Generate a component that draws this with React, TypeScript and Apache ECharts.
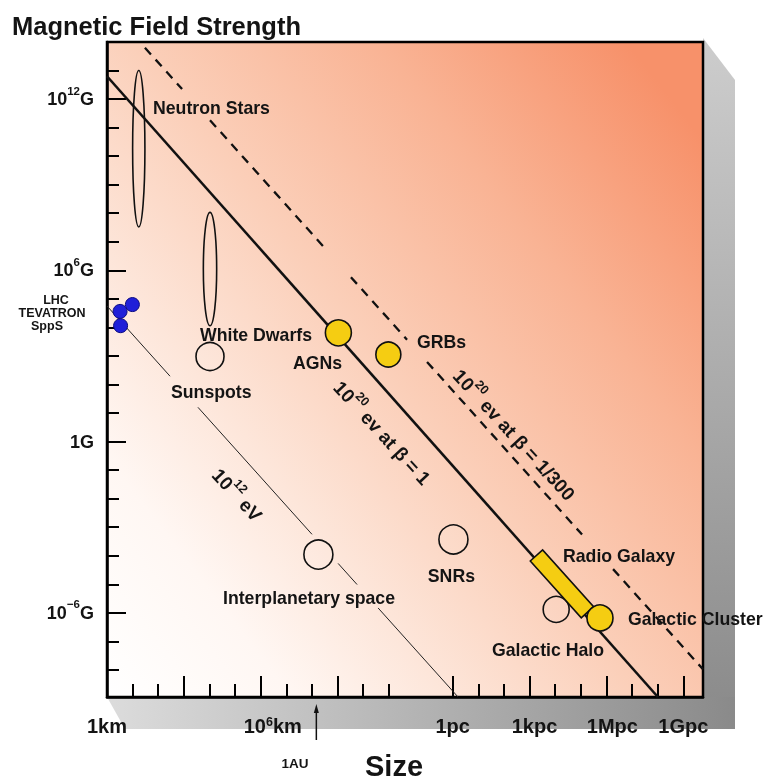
import React, { useEffect, useRef } from 'react';
import * as echarts from 'echarts';

const FONT = "'Liberation Sans', Arial, Helvetica, sans-serif";
const INK = '#141414';
const YELLOW = '#f5cd12';

// Axis extents: log10(size / km) and log10(B / Gauss)
const X_RANGE = [0, 23.26];
const Y_RANGE = [-8.95, 14];

// Tick positions (log10 km): decades up to 10^11 km, then decades from 1 pc
const xMinorTicks = [1, 2, 4, 5, 7, 8, 10, 11, 14.49, 15.49, 17.49, 18.49, 20.49, 21.49];
const xMajorTicks = [3, 6, 9, 13.49, 16.49, 19.49, 22.49];
const xLabelVals = [0, 6, 13.49, 16.49, 19.49, 22.49];
const xLabelRich = ['{n|1km}', '{pa|10}{s|6}{n|km}', '{n|1pc}', '{pb|1kpc}', '{pc|1Mpc}', '{n|1Gpc}'];

// Tick positions (log10 Gauss)
const yMinorTicks = [-8, -7, -5, -4, -3, -2, -1, 1, 2, 3, 4, 5, 7, 8, 9, 10, 11, 13];
const yMajorTicks = [-6, 0, 6, 12];
const yLabelVals = [12, 6, 0, -6];
const yLabelRich = ['{n|10}{s|12}{n|G}', '{n|10}{s|6}{n|G}', '{n|1G}', '{n|10}{s|\u22126}{n|G}'];

// Maximum-energy lines, drawn segments [[x, y], [x, y]]
const betaOneLine = [[[0, 12.8], [21.5, -8.95]]];
const betaSlowLine = [
  [[1.48, 13.8], [2.93, 12.35]],
  [[4.02, 11.26], [8.43, 6.85]],
  [[9.52, 5.76], [11.71, 3.57]],
  [[12.49, 2.79], [18.54, -3.26]],
  [[19.75, -4.47], [23.26, -7.98]],
];
const teVLine = [
  [[0, 4.75], [2.46, 2.29]],
  [[3.55, 1.2], [8.0, -3.25]],
  [[9.02, -4.27], [9.76, -5.01]],
  [[10.58, -5.83], [13.7, -8.95]],
];

// Sources: [log10 size, log10 B, symbol size]
const openSources = [
  [4.02, 2.98, 28], // Sunspots
  [8.25, -3.96, 29], // Interplanetary space
  [13.52, -3.43, 29], // SNRs
  [17.53, -5.88, 26], // Galactic Halo
];
const yellowSources = [
  [9.03, 3.81, 26], // AGNs
  [10.98, 3.05, 25], // GRBs
  [19.24, -6.18, 26], // Galactic Cluster
];
const colliders = [
  [0.99, 4.8],
  [0.51, 4.56],
  [0.53, 4.06],
];
// Ellipses: [xMin, xMax, yMin, yMax]
const ellipses = [
  [1.0, 1.48, 7.52, 13.0], // Neutron stars
  [3.76, 4.28, 4.06, 8.03], // White dwarfs
];
// Radio galaxy bar: [x1, y1, x2, y2]
const radioGalaxy = [[16.76, -3.99, 18.75, -5.98]];
// 1 AU in log10 km
const auMarker = [[8.17]];

const rs = (size: number, lh: number, extra: any = {}) => ({
  fontSize: size,
  lineHeight: lh,
  fontWeight: 'bold',
  fontFamily: FONT,
  color: INK,
  ...extra,
});

const txt = (text: string, x: number, y: number, align = 'left', size = 17.7, extra: any = {}) => ({
  type: 'text',
  x,
  y,
  z: 5,
  silent: true,
  ...extra,
  style: {
    text,
    fill: INK,
    fontSize: size,
    fontWeight: 'bold',
    fontFamily: FONT,
    align,
    verticalAlign: 'middle',
    textAlign: align,
    textVerticalAlign: 'middle',
    ...(extra.style || {}),
  },
});

const ANG = -47.5 * Math.PI / 180;
const rotRich = {
  n: rs(19, 30),
  s: rs(12.5, 12, { verticalAlign: 'top' }),
};

function buildOption() {
  const baseAxisX = {
    type: 'value',
    min: X_RANGE[0],
    max: X_RANGE[1],
    position: 'bottom',
    splitLine: { show: false },
  };
  const baseAxisY = {
    type: 'value',
    min: Y_RANGE[0],
    max: Y_RANGE[1],
    position: 'left',
    splitLine: { show: false },
  };
  const tickStyle = { color: '#000', width: 2 };
  return {
    animation: false,
    textStyle: { fontFamily: FONT },
    grid: {
      left: 107,
      right: 60,
      top: 42,
      bottom: 85,
      show: true,
      borderColor: '#000',
      borderWidth: 2.5,
      backgroundColor: new echarts.graphic.LinearGradient(0, 1, 1, 0.15, [
        { offset: 0, color: '#ffffff' },
        { offset: 0.18, color: '#fff7f3' },
        { offset: 0.33, color: '#fde6da' },
        { offset: 0.52, color: '#fbcfb9' },
        { offset: 0.76, color: '#f9b394' },
        { offset: 1, color: '#f7916a' },
      ]),
      containLabel: false,
      outerBoundsMode: 'none',
    },
    xAxis: [
      {
        ...baseAxisX,
        axisLine: { show: true, onZero: false, lineStyle: { color: '#000', width: 2.5 } },
        axisTick: { show: true, inside: true, length: 13, customValues: xMinorTicks, lineStyle: tickStyle },
        axisLabel: {
          show: true,
          margin: 18,
          customValues: xLabelVals,
          formatter: (v: number) => {
            const i = xLabelVals.findIndex((t) => Math.abs(t - v) < 1e-6);
            return i >= 0 ? xLabelRich[i] : '';
          },
          rich: {
            n: rs(20, 21),
            s: rs(12.5, 10, { verticalAlign: 'top' }),
            pa: rs(20, 21, { padding: [0, 0, 0, 24] }),
            pb: rs(20, 21, { padding: [0, 0, 0, 10] }),
            pc: rs(20, 21, { padding: [0, 0, 0, 12] }),
          },
        },
      },
      {
        ...baseAxisX,
        axisLine: { show: false, onZero: false },
        axisTick: { show: true, inside: true, length: 21, customValues: xMajorTicks, lineStyle: tickStyle },
        axisLabel: { show: false },
      },
    ],
    yAxis: [
      {
        ...baseAxisY,
        axisLine: { show: true, onZero: false, lineStyle: { color: '#000', width: 2.5 } },
        axisTick: { show: true, inside: true, length: 12, customValues: yMinorTicks, lineStyle: tickStyle },
        axisLabel: {
          show: true,
          margin: 13,
          customValues: yLabelVals,
          formatter: (v: number) => {
            const i = yLabelVals.findIndex((t) => Math.abs(t - v) < 1e-6);
            return i >= 0 ? yLabelRich[i] : '';
          },
          rich: {
            n: rs(18, 29),
            s: rs(11.5, 11, { verticalAlign: 'top' }),
          },
        },
      },
      {
        ...baseAxisY,
        axisLine: { show: false, onZero: false },
        axisTick: { show: true, inside: true, length: 19, customValues: yMajorTicks, lineStyle: tickStyle },
        axisLabel: { show: false },
      },
    ],
    series: [
      {
        type: 'lines',
        coordinateSystem: 'cartesian2d',
        silent: true,
        z: 2,
        data: teVLine.map((c) => ({ coords: c })),
        lineStyle: { color: '#222', width: 1, type: 'solid', opacity: 1, curveness: 0 },
      },
      {
        type: 'lines',
        coordinateSystem: 'cartesian2d',
        silent: true,
        z: 2,
        data: betaSlowLine.map((c) => ({ coords: c })),
        lineStyle: { color: '#111', width: 2.3, type: [9, 7], opacity: 1, curveness: 0 },
      },
      {
        type: 'lines',
        coordinateSystem: 'cartesian2d',
        silent: true,
        z: 2,
        data: betaOneLine.map((c) => ({ coords: c })),
        lineStyle: { color: '#111', width: 2.6, type: 'solid', opacity: 1, curveness: 0 },
      },
      {
        type: 'custom',
        coordinateSystem: 'cartesian2d',
        silent: true,
        clip: false,
        z: 3,
        data: ellipses,
        renderItem: (params: any, api: any) => {
          const a = api.coord([api.value(0), api.value(2)]);
          const b = api.coord([api.value(1), api.value(3)]);
          return {
            type: 'ellipse',
            shape: {
              cx: (a[0] + b[0]) / 2,
              cy: (a[1] + b[1]) / 2,
              rx: Math.abs(b[0] - a[0]) / 2,
              ry: Math.abs(b[1] - a[1]) / 2,
            },
            style: { fill: 'none', stroke: '#111', lineWidth: 1.6 },
          };
        },
      },
      {
        type: 'scatter',
        silent: true,
        z: 3,
        data: openSources,
        symbol: 'circle',
        symbolSize: (v: number[]) => v[2],
        itemStyle: { color: 'rgba(255,255,255,0.08)', borderColor: '#111', borderWidth: 1.6, opacity: 1 },
      },
      {
        type: 'custom',
        coordinateSystem: 'cartesian2d',
        silent: true,
        clip: false,
        z: 4,
        data: radioGalaxy,
        renderItem: (params: any, api: any) => {
          const a = api.coord([api.value(0), api.value(1)]);
          const b = api.coord([api.value(2), api.value(3)]);
          const dx = b[0] - a[0];
          const dy = b[1] - a[1];
          const L = Math.hypot(dx, dy) || 1;
          const h = 8.3;
          const nx = (-dy / L) * h;
          const ny = (dx / L) * h;
          return {
            type: 'polygon',
            shape: {
              points: [
                [a[0] + nx, a[1] + ny],
                [b[0] + nx, b[1] + ny],
                [b[0] - nx, b[1] - ny],
                [a[0] - nx, a[1] - ny],
              ],
            },
            style: { fill: YELLOW, stroke: '#111', lineWidth: 1.6 },
          };
        },
      },
      {
        type: 'scatter',
        silent: true,
        z: 4,
        data: yellowSources,
        symbol: 'circle',
        symbolSize: (v: number[]) => v[2],
        itemStyle: { color: YELLOW, borderColor: '#111', borderWidth: 1.6, opacity: 1 },
      },
      {
        type: 'scatter',
        silent: true,
        z: 4,
        data: colliders,
        symbol: 'circle',
        symbolSize: 14,
        itemStyle: { color: '#1f1fd8', borderColor: '#0b0b80', borderWidth: 1, opacity: 1 },
      },
      {
        type: 'custom',
        coordinateSystem: 'cartesian2d',
        silent: true,
        clip: false,
        z: 4,
        data: auMarker,
        renderItem: (params: any, api: any) => {
          const p = api.coord([api.value(0), Y_RANGE[0]]);
          const x = p[0];
          const y = p[1];
          return {
            type: 'group',
            children: [
              { type: 'line', shape: { x1: x, y1: y + 12, x2: x, y2: y + 43 }, style: { stroke: '#111', lineWidth: 1.5 } },
              { type: 'polygon', shape: { points: [[x, y + 7], [x - 2.5, y + 16], [x + 2.5, y + 16]] }, style: { fill: '#111' } },
            ],
          };
        },
      },
    ],
    graphic: [
      // drop shadow of the panel
      {
        type: 'polygon',
        z: -10,
        silent: true,
        shape: { points: [[703, 38], [735, 80], [735, 700], [703, 700]] },
        style: {
          fill: new echarts.graphic.LinearGradient(0, 0, 0, 1, [
            { offset: 0, color: '#cdcdcd' },
            { offset: 1, color: '#8c8c8c' },
          ]),
        },
      },
      {
        type: 'polygon',
        z: -10,
        silent: true,
        shape: { points: [[107, 697], [735, 697], [735, 729], [125, 729]] },
        style: {
          fill: new echarts.graphic.LinearGradient(0, 0, 1, 0, [
            { offset: 0, color: '#dcdcdc' },
            { offset: 1, color: '#8a8a8a' },
          ]),
        },
      },
      txt('Magnetic Field Strength', 12, 26, 'left', 25.5),
      txt('Size', 394, 766, 'center', 29),
      txt('1AU', 295, 763, 'center', 13.5),
      txt('LHC', 56, 300, 'center', 12.5),
      txt('TEVATRON', 52, 313, 'center', 12.5),
      txt('SppS', 47, 326, 'center', 12.5),
      txt('Neutron Stars', 153, 107.5),
      txt('White Dwarfs', 200, 335),
      txt('Sunspots', 171, 391.5),
      txt('AGNs', 293, 362.5),
      txt('GRBs', 417, 341.7),
      txt('SNRs', 475, 576, 'right'),
      txt('Radio Galaxy', 563, 556),
      txt('Galactic Cluster', 628, 619),
      txt('Galactic Halo', 492, 650),
      txt('Interplanetary space', 223, 598),
      txt('', 237, 495, 'center', 19, { rotation: ANG, style: { text: '{n|10}{s|12}{n| eV}', rich: rotRich } }),
      txt('', 382, 433, 'center', 19, { rotation: ANG, style: { text: '{n|10}{s|20}{n| ev at \u03b2 = 1}', rich: rotRich } }),
      txt('', 514, 435, 'center', 19, { rotation: ANG, style: { text: '{n|10}{s|20}{n| ev at \u03b2 = 1/300}', rich: rotRich } }),
    ],
  };
}

export default function App() {
  const ref = useRef<HTMLDivElement>(null);
  useEffect(() => {
    if (!ref.current) return;
    const chart = echarts.init(ref.current, undefined, { renderer: 'svg' });
    chart.setOption(buildOption() as any);
    return () => chart.dispose();
  }, []);
  return <div ref={ref} style={{ position: 'fixed', left: 0, top: 0, width: 763, height: 782 }} />;
}
